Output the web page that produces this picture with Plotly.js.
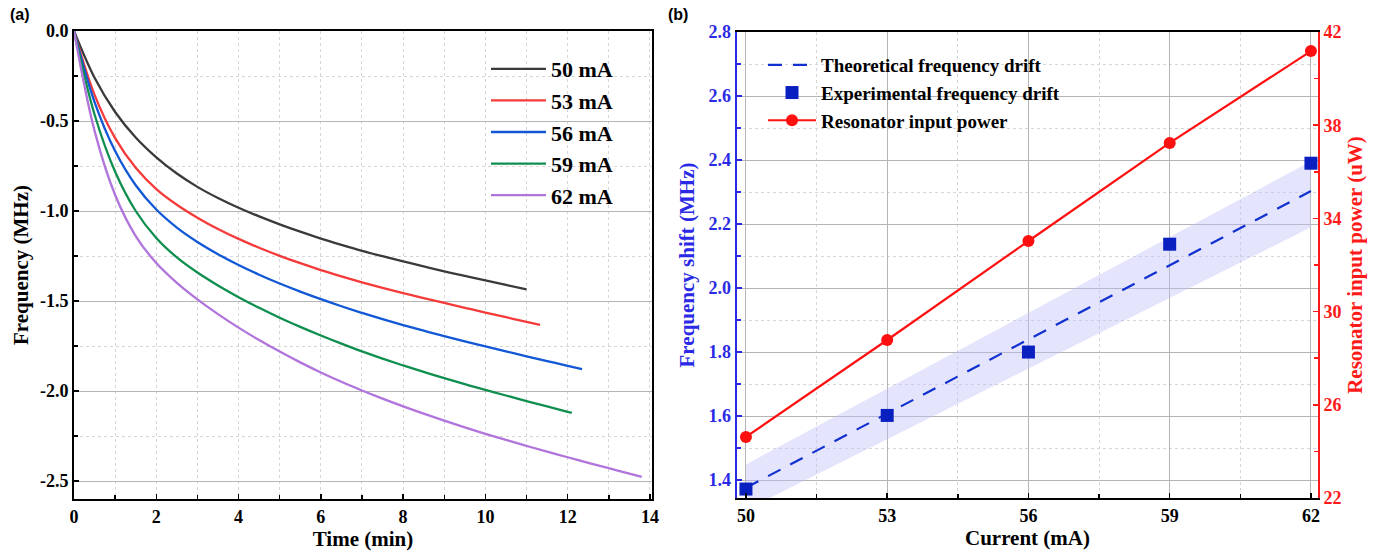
<!DOCTYPE html>
<html>
<head>
<meta charset="utf-8">
<script src="https://cdn.plot.ly/plotly-3.0.1.min.js"></script>
<style>html,body{margin:0;padding:0;background:#fff;}#chart{width:1373px;height:553px;}</style>
</head>
<body>
<div id="chart"></div>
<script>
// ---------- Panel (a): frequency vs time (read every 0.5 min) ----------
const labelsA = ["50 mA", "53 mA", "56 mA", "59 mA", "62 mA"];
const time50 = [0, 0.5, 1, 1.5, 2, 2.5, 3, 3.5, 4, 4.5, 5, 5.5, 6, 6.5, 7, 7.5, 8, 8.5, 9, 9.5, 10, 10.5, 11];
const freq50 = [0, -0.26, -0.45, -0.592, -0.702, -0.792, -0.866, -0.928, -0.982, -1.03, -1.074, -1.115, -1.153, -1.188, -1.221, -1.251, -1.28, -1.308, -1.335, -1.361, -1.386, -1.411, -1.436];
const time53 = [0, 0.5, 1, 1.5, 2, 2.5, 3, 3.5, 4, 4.5, 5, 5.5, 6, 6.5, 7, 7.5, 8, 8.5, 9, 9.5, 10, 10.5, 11, 11.33];
const freq53 = [0, -0.355, -0.595, -0.76, -0.878, -0.965, -1.037, -1.10, -1.155, -1.204, -1.249, -1.29, -1.328, -1.363, -1.396, -1.427, -1.456, -1.484, -1.511, -1.538, -1.564, -1.59, -1.616, -1.633];
const time56 = [0, 0.5, 1, 1.5, 2, 2.5, 3, 3.5, 4, 4.5, 5, 5.5, 6, 6.5, 7, 7.5, 8, 8.5, 9, 9.5, 10, 10.5, 11, 11.5, 12, 12.35];
const freq56 = [0, -0.395, -0.667, -0.857, -0.992, -1.092, -1.172, -1.24, -1.30, -1.354, -1.403, -1.448, -1.49, -1.529, -1.566, -1.601, -1.634, -1.665, -1.695, -1.724, -1.752, -1.78, -1.807, -1.834, -1.86, -1.878];
const time59 = [0, 0.5, 1, 1.5, 2, 2.5, 3, 3.5, 4, 4.5, 5, 5.5, 6, 6.5, 7, 7.5, 8, 8.5, 9, 9.5, 10, 10.5, 11, 11.5, 12, 12.1];
const freq59 = [0, -0.464, -0.782, -1.0, -1.15, -1.258, -1.342, -1.414, -1.479, -1.538, -1.593, -1.644, -1.692, -1.737, -1.78, -1.82, -1.858, -1.894, -1.929, -1.962, -1.994, -2.025, -2.056, -2.086, -2.116, -2.122];
const time62 = [0, 0.5, 1, 1.5, 2, 2.5, 3, 3.5, 4, 4.5, 5, 5.5, 6, 6.5, 7, 7.5, 8, 8.5, 9, 9.5, 10, 10.5, 11, 11.5, 12, 12.5, 13, 13.5, 13.8];
const freq62 = [0, -0.555, -0.911, -1.139, -1.289, -1.399, -1.491, -1.573, -1.648, -1.717, -1.781, -1.841, -1.897, -1.949, -1.997, -2.042, -2.085, -2.126, -2.165, -2.202, -2.238, -2.272, -2.305, -2.337, -2.368, -2.399, -2.429, -2.459, -2.477];
const colorsA = ["#3a3a3a", "#f53a3a", "#1157d6", "#0f8f4f", "#b074dc"];
const xTicksA = [0, 2, 4, 6, 8, 10, 12, 14];
const xTickTextA = ["0", "2", "4", "6", "8", "10", "12", "14"];
const yTicksA = [0, -0.5, -1.0, -1.5, -2.0, -2.5];
const yTickTextA = ["0.0", "-0.5", "-1.0", "-1.5", "-2.0", "-2.5"];

// ---------- Panel (b): frequency shift & power vs current ----------
const currents = [50, 53, 56, 59, 62];
const currentLabels = ["50", "53", "56", "59", "62"];
const expShift = [1.372, 1.602, 1.80, 2.137, 2.39];
const inputPower = [24.62, 28.78, 33.03, 37.24, 41.18];
const theoryCurrent = [50, 62];
const theoryShift = [1.376, 2.303];
const bandUpper = [1.449, 2.396];
const bandLower = [1.307, 2.19];
const namesB = ["Theoretical frequency drift", "Experimental frequency drift", "Resonator input power"];
const yTicksB = [1.4, 1.6, 1.8, 2.0, 2.2, 2.4, 2.6, 2.8];
const yTickTextB = ["1.4", "1.6", "1.8", "2.0", "2.2", "2.4", "2.6", "2.8"];
const yTicksB2 = [22, 26, 30, 34, 38, 42];
const yTickTextB2 = ["22", "26", "30", "34", "38", "42"];

const FONT = "Liberation Serif, Times New Roman, serif";
const bold = arr => arr.map(s => "<b>" + s + "</b>");
const timesA = [time50, time53, time56, time59, time62];
const freqsA = [freq50, freq53, freq56, freq59, freq62];

const traces = [];
for (let i = 0; i < 5; i++) {
  traces.push({
    x: timesA[i], y: freqsA[i], type: "scatter", mode: "lines",
    name: "<b>" + labelsA[i] + "</b>", line: {color: colorsA[i], width: 2.3, shape: "spline", smoothing: 1},
    xaxis: "x", yaxis: "y", legend: "legend", legendgroup: "a" + i
  });
}
// band
traces.push({x: theoryCurrent, y: bandLower, type: "scatter", mode: "lines", line: {width: 0}, showlegend: false, xaxis: "x2", yaxis: "y2", hoverinfo: "skip"});
traces.push({x: theoryCurrent, y: bandUpper, type: "scatter", mode: "lines", line: {width: 0}, fill: "tonexty", fillcolor: "rgba(190,190,250,0.42)", showlegend: false, xaxis: "x2", yaxis: "y2", hoverinfo: "skip"});
traces.push({x: theoryCurrent, y: theoryShift, type: "scatter", mode: "lines", name: "<b>" + namesB[0] + "</b>",
  line: {color: "#1030d0", width: 2.2, dash: "14px,11px"}, xaxis: "x2", yaxis: "y2", legend: "legend2", legendgroup: "b0"});
traces.push({x: currents, y: expShift, type: "scatter", mode: "markers", name: "<b>" + namesB[1] + "</b>",
  marker: {symbol: "square", size: 13, color: "#0a1fbf"}, xaxis: "x2", yaxis: "y2", legend: "legend2", legendgroup: "b1"});
traces.push({x: currents, y: inputPower, type: "scatter", mode: "lines+markers", name: "<b>" + namesB[2] + "</b>",
  line: {color: "#ff1010", width: 2.2}, marker: {symbol: "circle", size: 12, color: "#ff1010"}, xaxis: "x2", yaxis: "y3", legend: "legend2", legendgroup: "b2"});

const gridMajor = "#b4b4b4";
const gridMinor = "#d6d6d6";
const BLUE = "#2a2ae6";
const RED = "#ff1a1a";

const layout = {
  width: 1373, height: 553,
  margin: {l: 0, r: 0, t: 0, b: 0},
  paper_bgcolor: "#fff", plot_bgcolor: "#fff",
  font: {family: FONT, size: 18, color: "#000"},
  showlegend: true,
  xaxis: {
    domain: [74/1373, 652/1373], range: [0, 14.05], anchor: "y",
    showline: true, linecolor: "#000", linewidth: 2, mirror: true,
    tickvals: xTicksA, ticktext: bold(xTickTextA), ticks: "inside", ticklen: 5, tickwidth: 1.5, tickcolor: "#000",
    showgrid: false, zeroline: false,
    minor: {dtick: 1, tick0: 0, ticks: "inside", ticklen: 4, tickcolor: "#000", showgrid: true, gridcolor: gridMinor, griddash: "dot", gridwidth: 1},
    tickfont: {family: FONT, size: 18, color: "#000", weight: "bold"},
    title: {text: "<b>Time (min)</b>", font: {family: FONT, size: 21}, standoff: 4}
  },
  yaxis: {
    domain: [1 - 499/553, 1 - 31/553], range: [-2.6, 0], anchor: "x",
    showline: true, linecolor: "#000", linewidth: 2, mirror: true,
    tickvals: yTicksA, ticktext: bold(yTickTextA), ticks: "inside", ticklen: 5, tickwidth: 1.5, tickcolor: "#000",
    showgrid: true, gridcolor: gridMajor, gridwidth: 1, zeroline: false,
    minor: {dtick: 0.25, tick0: 0, ticks: "inside", ticklen: 4, tickcolor: "#000", showgrid: true, gridcolor: gridMinor, griddash: "dot", gridwidth: 1},
    tickfont: {family: FONT, size: 18, color: "#000", weight: "bold"},
    title: {text: "<b>Frequency (MHz)</b>", font: {family: FONT, size: 21}, standoff: 6}
  },
  xaxis2: {
    domain: [737/1373, 1318/1373], range: [49.81, 62.15], anchor: "y2",
    showline: true, linecolor: "#000", linewidth: 2, mirror: true,
    tickvals: currents, ticktext: bold(currentLabels), ticks: "inside", ticklen: 5, tickwidth: 1.5, tickcolor: "#000",
    showgrid: true, gridcolor: gridMajor, gridwidth: 1, zeroline: false,
    minor: {dtick: 1.5, tick0: 50, ticks: "inside", ticklen: 4, tickcolor: "#000", showgrid: true, gridcolor: gridMinor, griddash: "dot", gridwidth: 1},
    tickfont: {family: FONT, size: 18, color: "#000", weight: "bold"},
    title: {text: "<b>Current (mA)</b>", font: {family: FONT, size: 21}, standoff: 4}
  },
  yaxis2: {
    domain: [1 - 498/553, 1 - 32/553], range: [1.344, 2.8], anchor: "x2",
    showline: true, linecolor: BLUE, linewidth: 2.5, mirror: false,
    tickvals: yTicksB, ticktext: bold(yTickTextB), ticks: "inside", ticklen: 5, tickwidth: 1.5, tickcolor: BLUE,
    showgrid: true, gridcolor: gridMajor, gridwidth: 1, zeroline: false,
    minor: {dtick: 0.1, tick0: 1.4, ticks: "inside", ticklen: 4, tickcolor: BLUE, showgrid: true, gridcolor: gridMinor, griddash: "dot", gridwidth: 1},
    tickfont: {family: FONT, size: 18, color: BLUE, weight: "bold"},
    title: {text: "<b>Frequency shift (MHz)</b>", font: {family: FONT, size: 21, color: BLUE}, standoff: 8}
  },
  yaxis3: {
    domain: [1 - 498/553, 1 - 32/553], range: [22, 42], anchor: "x2", overlaying: "y2", side: "right",
    showline: true, linecolor: RED, linewidth: 2,
    tickvals: yTicksB2, ticktext: bold(yTickTextB2), ticks: "inside", ticklen: 5, tickwidth: 1.5, tickcolor: RED,
    showgrid: false, zeroline: false,
    minor: {dtick: 2, tick0: 22, ticks: "inside", ticklen: 4, tickcolor: RED, showgrid: false},
    tickfont: {family: FONT, size: 18, color: RED, weight: "bold"},
    title: {text: "<b>Resonator input power (uW)</b>", font: {family: FONT, size: 21, color: RED}, standoff: 7}
  },
  legend: {
    x: 486/1373, y: 1 - 48/553, xanchor: "left", yanchor: "top",
    bgcolor: "rgba(0,0,0,0)", borderwidth: 0, itemwidth: 55,
    font: {family: FONT, size: 22, color: "#000"},
    traceorder: "grouped", tracegroupgap: 0
  },
  legend2: {
    x: 763/1373, y: 1 - 46/553, xanchor: "left", yanchor: "top",
    bgcolor: "rgba(0,0,0,0)", borderwidth: 0, itemwidth: 48,
    font: {family: FONT, size: 19, color: "#000"},
    traceorder: "grouped", tracegroupgap: 0
  },
  annotations: [
    {text: "<b>(a)</b>", x: 8/1373, y: 1 - 15/553, xref: "paper", yref: "paper", xanchor: "left", yanchor: "middle", showarrow: false,
     font: {family: "Liberation Sans, Arial, sans-serif", size: 16, color: "#000"}},
    {text: "<b>(b)</b>", x: 666/1373, y: 1 - 15/553, xref: "paper", yref: "paper", xanchor: "left", yanchor: "middle", showarrow: false,
     font: {family: "Liberation Sans, Arial, sans-serif", size: 16, color: "#000"}}
  ]
};

Plotly.newPlot("chart", traces, layout, {displayModeBar: false, staticPlot: true});
</script>
</body>
</html>
